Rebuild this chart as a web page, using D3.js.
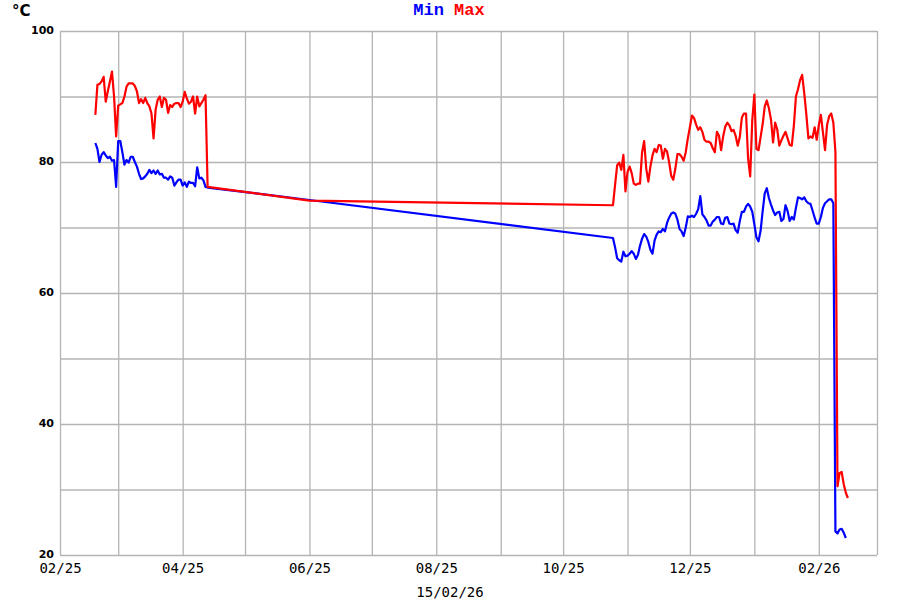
<!DOCTYPE html>
<html>
<head>
<meta charset="utf-8">
<script src="https://cdn.jsdelivr.net/npm/d3@7"></script>
<style>
  html, body { margin: 0; padding: 0; background: #fff; }
  svg { display: block; }
</style>
</head>
<body>
<svg id="chart" width="900" height="600"></svg>
<script>
// ---------------- DATA ----------------
const seriesNames = ["Min", "Max"];
const seriesColors = ["#0000ff", "#ff0000"];
const unitLabel = "°C";
const dateLabel = "15/02/26";

const xTickLabels = ["02/25", "04/25", "06/25", "08/25", "10/25", "12/25", "02/26"];
const yTickLabels = [20, 40, 60, 80, 100];
const yGridValues = [20, 30, 40, 50, 60, 70, 80, 90, 100];

// first block of daily readings, starting 2025-02-18
const seg1Start = "2025-02-18";
const seg1Min = [82.9, 82.0, 80.0, 81.1, 81.5, 81.0, 80.6, 80.8, 80.2, 80.3,
  76.2, 83.2, 83.2, 81.5, 79.6, 80.3, 79.9, 80.8, 80.8, 80.0,
  79.3, 78.2, 77.4, 77.5, 77.8, 78.2, 78.8, 78.3, 78.7, 78.2,
  78.7, 78.1, 78.2, 77.6, 77.6, 77.3, 77.8, 77.6, 76.4, 76.9,
  77.3, 77.3, 76.4, 76.9, 76.2, 77.0, 76.8, 76.8, 76.3, 79.2,
  77.5, 77.6, 77.2, 76.2, 76.1];
const seg1Max = [87.2, 91.8, 91.9, 92.3, 93.0, 89.2, 90.8, 92.3, 93.8, 90.0,
  83.9, 88.6, 88.8, 89.0, 90.0, 91.5, 92.0, 92.0, 92.0, 91.6,
  90.8, 89.0, 89.6, 89.0, 89.8, 89.0, 88.5, 87.4, 83.6, 88.0,
  89.5, 90.0, 88.4, 89.8, 89.5, 87.5, 88.7, 88.4, 88.9, 89.0,
  89.0, 88.4, 89.2, 90.7, 89.7, 88.9, 89.2, 90.0, 87.4, 90.0,
  88.5, 89.0, 89.5, 90.2, 76.2];

// isolated reading in the gap
const gapDates = ["2025-06-01"];
const gapMin = [74.2];
const gapMax = [74.1];

// second block of daily readings, starting 2025-10-25
const seg2Start = "2025-10-25";
const seg2Min = [68.4, 67.0, 65.3, 65.0, 64.8, 66.3, 65.6, 65.7, 66.0, 66.4,
  66.0, 65.2, 65.8, 67.2, 68.3, 69.0, 68.6, 67.8, 66.6, 66.0,
  68.0, 68.9, 69.4, 69.3, 69.8, 69.4, 70.7, 71.5, 72.1, 72.3,
  72.1, 71.2, 69.8, 69.4, 68.7, 70.0, 71.7, 71.6, 71.8, 71.6,
  72.1, 72.8, 74.8, 72.0, 71.6, 71.1, 70.3, 70.3, 70.9, 71.2,
  71.6, 71.6, 70.6, 70.5, 71.5, 71.6, 70.6, 70.5, 70.6, 69.6,
  69.2, 71.0, 72.4, 72.4, 73.2, 73.6, 73.2, 72.4, 70.5, 68.5,
  67.9, 69.5, 72.5, 75.2, 76.0, 74.5, 73.5, 72.6, 71.9, 72.3,
  72.4, 71.0, 71.3, 73.4, 72.5, 71.0, 71.6, 71.2, 73.0, 74.6,
  74.5, 74.3, 74.6, 74.0, 73.7, 73.6, 72.6, 71.5, 70.6, 70.6,
  71.6, 73.0, 73.7, 74.0, 74.3, 74.3, 73.7, 23.6, 23.3, 23.9,
  24.0, 23.4, 22.6];
const seg2Max = [73.4, 76.5, 79.5, 79.9, 78.8, 81.1, 75.5, 78.5, 79.3, 78.3,
  76.7, 76.5, 76.7, 76.7, 81.5, 83.2, 79.0, 77.0, 79.3, 81.0,
  82.0, 81.5, 82.6, 82.5, 80.5, 82.0, 81.6, 80.0, 77.9, 77.3,
  79.0, 81.2, 81.2, 80.8, 80.2, 81.5, 83.6, 85.3, 87.1, 86.7,
  85.7, 84.9, 85.3, 84.6, 83.4, 83.1, 83.1, 82.9, 82.1, 81.5,
  84.6, 84.0, 81.8, 83.9, 85.4, 86.0, 85.6, 84.7, 84.9, 84.0,
  82.5, 83.8, 86.8, 87.4, 87.4, 80.5, 77.8, 86.4, 90.3, 82.0,
  81.8, 83.8, 85.8, 88.5, 89.4, 88.2, 86.5, 83.0, 86.0, 85.0,
  82.5, 83.3, 84.0, 84.6, 83.6, 82.6, 82.5, 85.5, 90.0, 91.1,
  92.5, 93.3, 90.5, 87.3, 83.6, 83.9, 83.7, 85.3, 83.4, 85.6,
  87.2, 84.5, 81.8, 85.7, 87.0, 87.4, 86.0, 81.5, 30.5, 32.5,
  32.7, 30.8, 29.5, 28.7];

const xDomain = ["2025-02-01", "2026-03-01"];
const yDomain = [20, 100];

// ---------------- BUILD ----------------
const parse = d3.timeParse("%Y-%m-%d");
function block(start, vals) {
  const s = parse(start);
  return vals.map((v, i) => ({ date: d3.timeDay.offset(s, i), value: v }));
}
const minPts = [].concat(
  block(seg1Start, seg1Min),
  gapDates.map((d, i) => ({ date: parse(d), value: gapMin[i] })),
  block(seg2Start, seg2Min));
const maxPts = [].concat(
  block(seg1Start, seg1Max),
  gapDates.map((d, i) => ({ date: parse(d), value: gapMax[i] })),
  block(seg2Start, seg2Max));

const W = 900, H = 600;
const m = { left: 60, top: 31, right: 23, bottom: 45 };
const svg = d3.select("#chart");

const x = d3.scaleTime().domain(xDomain.map(parse)).range([m.left, W - m.right]);
const y = d3.scaleLinear().domain(yDomain).range([H - m.bottom, m.top]);

const gridColor = "#b4b4b4";

// vertical month grid lines
const months = d3.timeMonth.range(parse(xDomain[0]), d3.timeDay.offset(parse(xDomain[1]), 1));
const fmt = d3.timeFormat("%m/%y");
svg.append("g")
  .attr("transform", `translate(0,${H - m.bottom})`)
  .call(d3.axisBottom(x).tickValues(months).tickSize(-(H - m.top - m.bottom)).tickFormat(""))
  .call(g => g.select(".domain").remove())
  .call(g => g.selectAll(".tick line").attr("stroke", gridColor).attr("stroke-width", 1.3));

// horizontal grid lines
svg.append("g")
  .attr("transform", `translate(${m.left},0)`)
  .call(d3.axisLeft(y).tickValues(yGridValues).tickSize(-(W - m.left - m.right)).tickFormat(""))
  .call(g => g.select(".domain").remove())
  .call(g => g.selectAll(".tick line").attr("stroke", gridColor).attr("stroke-width", 1.3));

// x tick labels
svg.append("g")
  .attr("transform", `translate(0,${H - m.bottom})`)
  .call(d3.axisBottom(x).tickValues(months.filter(d => xTickLabels.includes(fmt(d))))
        .tickSize(0).tickPadding(18).tickFormat(fmt))
  .call(g => g.select(".domain").remove())
  .call(g => g.selectAll("text")
    .attr("font-family", "'DejaVu Sans Mono', monospace")
    .attr("font-size", 14).attr("fill", "#000").attr("dy", 0));

// y tick labels
svg.append("g")
  .attr("transform", `translate(${m.left},0)`)
  .call(d3.axisLeft(y).tickValues(yTickLabels).tickSize(0).tickPadding(6))
  .call(g => g.select(".domain").remove())
  .call(g => g.selectAll("text")
    .attr("font-family", "'DejaVu Sans', sans-serif")
    .attr("font-weight", "bold")
    .attr("dy", "0.22em")
    .attr("font-size", 11).attr("fill", "#000"));

// lines
const line = d3.line().x(d => x(d.date)).y(d => y(d.value));
[minPts, maxPts].forEach((pts, i) => {
  svg.append("path").datum(pts)
    .attr("fill", "none")
    .attr("stroke", seriesColors[i])
    .attr("stroke-width", 2.2)
    .attr("stroke-linejoin", "round")
    .attr("d", line);
});

// unit label
svg.append("text").attr("x", 12).attr("y", 16)
  .attr("font-family", "'DejaVu Sans', sans-serif").attr("font-weight", "bold")
  .attr("font-size", 15).text(unitLabel);

// legend
const leg = svg.append("text").attr("x", 449).attr("y", 15).attr("text-anchor", "middle")
  .attr("font-family", "'Liberation Mono', monospace").attr("font-weight", "bold").attr("font-size", 17);
seriesNames.forEach((n, i) => {
  leg.append("tspan").attr("fill", seriesColors[i]).text((i ? " " : "") + n);
});

// date subtitle
svg.append("text").attr("x", 450).attr("y", 597).attr("text-anchor", "middle")
  .attr("font-family", "'DejaVu Sans Mono', monospace").attr("font-size", 14)
  .text(dateLabel);
</script>
</body>
</html>
